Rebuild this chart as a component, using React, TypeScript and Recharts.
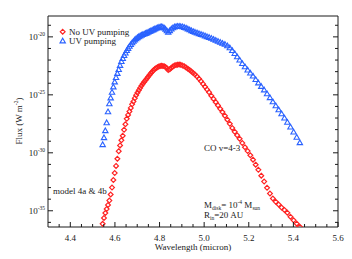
import { ScatterChart, Scatter, XAxis, YAxis } from 'recharts';

// CO v=4-3 line fluxes, log10(W m^-2)
const WAVELENGTH = [
  4.545, 4.551, 4.557, 4.563, 4.569, 4.575, 4.581, 4.587, 4.593, 4.599,
  4.605, 4.611, 4.617, 4.623, 4.629, 4.635, 4.641, 4.647, 4.653, 4.659,
  4.665, 4.671, 4.677, 4.683, 4.689, 4.695, 4.701, 4.707, 4.713, 4.719,
  4.725, 4.731, 4.737, 4.743, 4.749, 4.755, 4.761, 4.767, 4.773, 4.779,
  4.785, 4.791, 4.797, 4.803, 4.809, 4.815, 4.821, 4.827, 4.833, 4.839,
  4.846, 4.853, 4.86, 4.867, 4.874, 4.881, 4.888, 4.895, 4.903, 4.911,
  4.919, 4.927, 4.935, 4.943, 4.951, 4.959, 4.968, 4.977, 4.986, 4.995,
  5.004, 5.013, 5.022, 5.032, 5.042, 5.052, 5.062, 5.072, 5.082, 5.093,
  5.104, 5.115, 5.126, 5.137, 5.148, 5.159, 5.171, 5.183, 5.195, 5.207,
  5.219, 5.231, 5.243, 5.256, 5.269, 5.282, 5.295, 5.308, 5.321, 5.334,
  5.347, 5.36, 5.373, 5.387, 5.401, 5.415, 5.429,
];

const FLUX_NO_UV = [
  -36.13, -35.62, -35.19, -34.85, -34.5, -34.12, -33.6, -33.0, -32.35, -31.75,
  -31.13, -30.51, -29.86, -29.36, -28.92, -28.53, -28.02, -27.54, -27.07, -26.73,
  -26.43, -26.13, -25.82, -25.57, -25.29, -25.03, -24.81, -24.6, -24.41, -24.22,
  -24.05, -23.89, -23.74, -23.59, -23.44, -23.29, -23.14, -23.0, -22.88, -22.77,
  -22.68, -22.61, -22.56, -22.52, -22.5, -22.51, -22.54, -22.6, -22.71, -22.86,
  -22.8, -22.67, -22.56, -22.47, -22.43, -22.4, -22.39, -22.41, -22.47, -22.54,
  -22.64, -22.75, -22.86, -22.99, -23.12, -23.25, -23.42, -23.61, -23.83, -24.06,
  -24.3, -24.54, -24.78, -25.08, -25.35, -25.63, -25.91, -26.21, -26.49, -26.8,
  -27.14, -27.5, -27.86, -28.19, -28.49, -28.79, -29.16, -29.52, -29.85, -30.21,
  -30.59, -31.02, -31.47, -31.97, -32.48, -33.02, -33.51, -33.94, -34.23, -34.46,
  -34.72, -34.93, -35.17, -35.52, -35.82, -36.11, -36.38,
];

const FLUX_UV = [
  -29.3, -28.7, -28.1, -27.41, -26.47, -25.78, -25.27, -24.79, -24.32, -23.89,
  -23.51, -23.16, -22.82, -22.47, -22.13, -21.87, -21.62, -21.4, -21.19, -21.0,
  -20.82, -20.67, -20.52, -20.39, -20.27, -20.16, -20.07, -19.99, -19.92, -19.86,
  -19.81, -19.76, -19.71, -19.66, -19.6, -19.55, -19.49, -19.43, -19.38, -19.32,
  -19.27, -19.22, -19.18, -19.15, -19.14, -19.17, -19.24, -19.34, -19.48, -19.6,
  -19.47, -19.32, -19.22, -19.15, -19.11, -19.09, -19.09, -19.11, -19.14, -19.19,
  -19.25, -19.32, -19.4, -19.47, -19.54, -19.6, -19.66, -19.73, -19.79, -19.85,
  -19.92, -19.99, -20.05, -20.13, -20.21, -20.3, -20.39, -20.47, -20.56, -20.65,
  -20.78, -20.95, -21.19, -21.44, -21.73, -22.0, -22.3, -22.59, -22.86, -23.12,
  -23.39, -23.68, -23.98, -24.28, -24.58, -24.91, -25.25, -25.61, -25.95, -26.3,
  -26.64, -27.01, -27.37, -27.78, -28.21, -28.67, -29.13,
];

const X_TICKS = [
  4.35, 4.4, 4.45, 4.5, 4.55, 4.6, 4.65, 4.7, 4.75, 4.8, 4.85, 4.9, 4.95,
  5.0, 5.05, 5.1, 5.15, 5.2, 5.25, 5.3, 5.35, 5.4, 5.45, 5.5, 5.55, 5.6,
];
const X_LABELS = [4.4, 4.6, 4.8, 5.0, 5.2, 5.4, 5.6];
const Y_TICKS = [-36, -35, -34, -33, -32, -31, -30, -29, -28, -27, -26, -25, -24, -23, -22, -21, -20, -19];
const Y_LABELS = [-35, -30, -25, -20];

const RED = '#ff2222';
const BLUE = '#2a62ff';
const INK = '#1a1a1a';
const FONT = '"Liberation Serif", "Times New Roman", serif';

const noUvData = WAVELENGTH.map((w, i) => ({ w, f: FLUX_NO_UV[i] }));
const uvData = WAVELENGTH.map((w, i) => ({ w, f: FLUX_UV[i] }));

const isXMajor = (v: number) => X_LABELS.some((m) => Math.abs(m - v) < 1e-6);
const isYMajor = (v: number) => Y_LABELS.includes(v);

function Diamond({ cx, cy }: any) {
  const r = 2.4;
  return (
    <path
      d={`M${cx},${cy - r}L${cx + r},${cy}L${cx},${cy + r}L${cx - r},${cy}Z`}
      fill="none"
      stroke={RED}
      strokeWidth={1.2}
    />
  );
}

function Triangle({ cx, cy }: any) {
  return (
    <path
      d={`M${cx},${cy - 2.8}L${cx + 2.7},${cy + 1.9}L${cx - 2.7},${cy + 1.9}Z`}
      fill="none"
      stroke={BLUE}
      strokeWidth={1.1}
    />
  );
}

function BottomTick({ x, y, payload }: any) {
  const major = isXMajor(payload.value);
  return (
    <g>
      <line x1={x} x2={x} y1={y} y2={y - (major ? 5 : 3)} stroke={INK} />
      {major && (
        <text x={x} y={y + 14} textAnchor="middle" fontSize={9} fontFamily={FONT} fill={INK}>
          {payload.value.toFixed(1)}
        </text>
      )}
    </g>
  );
}

function TopTick({ x, y, payload }: any) {
  const major = isXMajor(payload.value);
  return <line x1={x} x2={x} y1={y} y2={y + (major ? 5 : 3)} stroke={INK} />;
}

function LeftTick({ x, y, payload }: any) {
  const major = isYMajor(payload.value);
  return (
    <g>
      <line x1={x} x2={x + (major ? 5 : 3)} y1={y} y2={y} stroke={INK} />
      {major && (
        <text x={x - 3} y={y + 3} textAnchor="end" fontSize={9} fontFamily={FONT} fill={INK}>
          10
          <tspan dy={-4} fontSize={5.5}>
            {payload.value}
          </tspan>
        </text>
      )}
    </g>
  );
}

function RightTick({ x, y, payload }: any) {
  const major = isYMajor(payload.value);
  return <line x1={x} x2={x - (major ? 5 : 3)} y1={y} y2={y} stroke={INK} />;
}

export default function App() {
  const textProps = { fontFamily: FONT, fontSize: 9, fill: INK };
  return (
    <div style={{ position: 'absolute', left: 0, top: 0, width: 352, height: 259, background: '#fff' }}>
      <ScatterChart width={352} height={259} margin={{ top: 10, right: 10, bottom: 2, left: 8 }}>
        <XAxis
          xAxisId={0}
          dataKey="w"
          type="number"
          domain={[4.3, 5.6]}
          allowDataOverflow
          ticks={X_TICKS}
          interval={0}
          height={30}
          tickSize={0}
          tickMargin={0}
          tickLine={false}
          tick={BottomTick}
          axisLine={{ stroke: INK }}
        />
        <XAxis
          xAxisId="top"
          orientation="top"
          type="number"
          domain={[4.3, 5.6]}
          allowDataOverflow
          ticks={X_TICKS}
          interval={0}
          height={6}
          tickSize={0}
          tickMargin={0}
          tickLine={false}
          tick={TopTick}
          axisLine={{ stroke: INK }}
        />
        <YAxis
          yAxisId={0}
          dataKey="f"
          type="number"
          domain={[-36.4, -18.2]}
          allowDataOverflow
          ticks={Y_TICKS}
          interval={0}
          width={40}
          tickSize={0}
          tickMargin={0}
          tickLine={false}
          tick={LeftTick}
          axisLine={{ stroke: INK }}
        />
        <YAxis
          yAxisId="right"
          orientation="right"
          type="number"
          domain={[-36.4, -18.2]}
          allowDataOverflow
          ticks={Y_TICKS}
          interval={0}
          width={4}
          tickSize={0}
          tickMargin={0}
          tickLine={false}
          tick={RightTick}
          axisLine={{ stroke: INK }}
        />
        <Scatter name="No UV pumping" data={noUvData} shape={Diamond} isAnimationActive={false} />
        <Scatter name="UV pumping" data={uvData} shape={Triangle} isAnimationActive={false} />
      </ScatterChart>
      <svg
        width={352}
        height={259}
        style={{ position: 'absolute', left: 0, top: 0, pointerEvents: 'none' }}
      >
        <text transform="translate(21.5,121) rotate(-90)" textAnchor="middle" {...textProps}>
          Flux (W m
          <tspan dy={-4} fontSize={5.5}>-2</tspan>
          <tspan dy={4}>)</tspan>
        </text>
        <text x={193} y={250} textAnchor="middle" {...textProps}>
          Wavelength (micron)
        </text>

        <Diamond cx={62.7} cy={31.7} />
        <text x={69} y={35} {...textProps}>No UV pumping</text>
        <Triangle cx={62.7} cy={41} />
        <text x={69} y={44} {...textProps}>UV pumping</text>

        <text x={204} y={151} {...textProps}>CO v=4-3</text>
        <text x={53} y={194} {...textProps}>model 4a &amp; 4b</text>

        <text x={204} y={208} {...textProps}>
          M
          <tspan dy={2} fontSize={5.5}>disk</tspan>
          <tspan dy={-2}>= 10</tspan>
          <tspan dy={-4} fontSize={5.5}>-4</tspan>
          <tspan dy={4}> M</tspan>
          <tspan dy={2} fontSize={5.5}>sun</tspan>
        </text>
        <text x={204} y={218} {...textProps}>
          R
          <tspan dy={2} fontSize={5.5}>in</tspan>
          <tspan dy={-2}>=20 AU</tspan>
        </text>
      </svg>
    </div>
  );
}
